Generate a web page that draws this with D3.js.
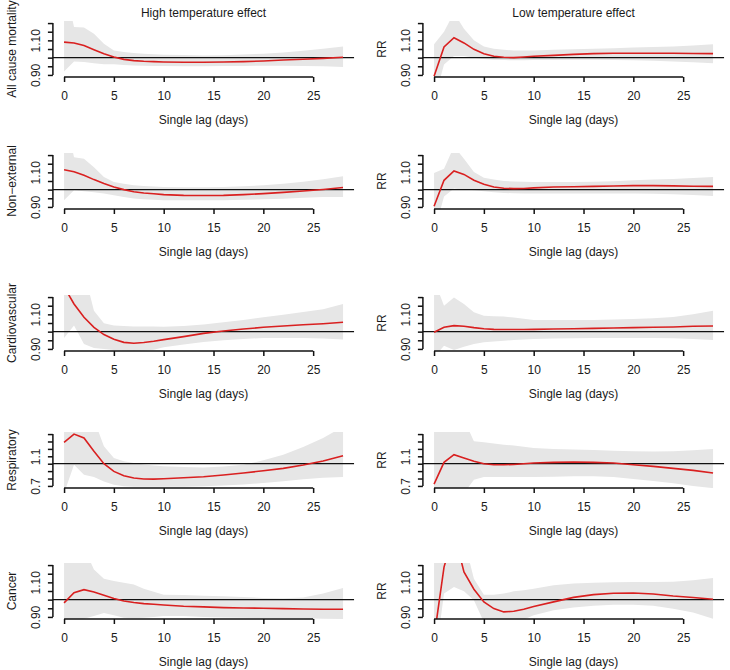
<!DOCTYPE html>
<html>
<head>
<meta charset="utf-8">
<title>Lag-response by cause</title>
<script src="https://d3js.org/d3.v7.min.js"></script>
<style>
  body { margin: 0; padding: 0; background: #fff; }
  svg text { font-family: "Liberation Sans", Arial, Helvetica, sans-serif; font-size: 12px; fill: #1a1a1a; }
</style>
</head>
<body>
<script>
// lags the curves were read at
var lags = [0, 1, 2, 3, 4, 5, 6, 7, 8, 9, 10, 12, 14, 16, 18, 20, 22, 24, 26, 28];

var causes = ["All cause mortality", "Non\u2212external", "Cardiovascular", "Respiratory", "Cancer"];
var effects = ["High temperature effect", "Low temperature effect"];
var xTicks = [0, 5, 10, 15, 20, 25];
var xLabel = "Single lag (days)";

// y ranges and ticks (narrow: 0.90-1.20, wide: 0.7-1.4 for respiratory)
var yRangeNarrow = [0.90, 1.20];
var yTicksNarrow = [0.90, 0.95, 1.00, 1.05, 1.10, 1.15, 1.20];
var yLabelsNarrow = ["0.90", "1.10"];
var yRangeWide = [0.7, 1.4];
var yTicksWide = [0.7, 0.8, 0.9, 1.0, 1.1, 1.2, 1.3, 1.4];
var yLabelsWide = ["0.7", "1.1"];

// high temperature: RR, lower and upper CI
var highAllRR = [1.09, 1.085, 1.07, 1.046, 1.023, 1.004, 0.99, 0.983, 0.979, 0.977, 0.975, 0.973, 0.973, 0.975, 0.977, 0.981, 0.986, 0.991, 0.996, 1.002];
var highAllLo = [0.92, 0.978, 0.975, 0.967, 0.962, 0.962, 0.958, 0.955, 0.953, 0.952, 0.951, 0.95, 0.95, 0.951, 0.952, 0.953, 0.953, 0.952, 0.95, 0.946];
var highAllHi = [1.45, 1.177, 1.175, 1.138, 1.08, 1.042, 1.033, 1.027, 1.022, 1.019, 1.017, 1.015, 1.013, 1.014, 1.018, 1.023, 1.03, 1.04, 1.052, 1.065];

var highNonRR = [1.115, 1.104, 1.083, 1.058, 1.035, 1.015, 1.0, 0.988, 0.981, 0.976, 0.971, 0.967, 0.966, 0.967, 0.971, 0.977, 0.984, 0.992, 1.001, 1.012];
var highNonLo = [0.938, 0.996, 0.99, 0.985, 0.977, 0.967, 0.957, 0.949, 0.944, 0.941, 0.939, 0.938, 0.938, 0.939, 0.941, 0.944, 0.948, 0.953, 0.957, 0.958];
var highNonHi = [1.45, 1.188, 1.179, 1.13, 1.073, 1.044, 1.034, 1.026, 1.021, 1.018, 1.016, 1.014, 1.014, 1.015, 1.019, 1.025, 1.034, 1.045, 1.06, 1.077];

var highCvdRR = [1.26, 1.16, 1.083, 1.025, 0.983, 0.956, 0.938, 0.933, 0.937, 0.944, 0.954, 0.971, 0.99, 1.004, 1.015, 1.025, 1.033, 1.04, 1.046, 1.054];
var highCvdLo = [0.963, 1.035, 0.929, 0.906, 0.9, 0.894, 0.891, 0.89, 0.891, 0.895, 0.91, 0.925, 0.94, 0.95, 0.958, 0.963, 0.963, 0.963, 0.96, 0.954];
var highCvdHi = [1.5, 1.45, 1.35, 1.121, 1.048, 1.035, 1.032, 1.03, 1.03, 1.03, 1.029, 1.033, 1.042, 1.054, 1.067, 1.083, 1.098, 1.113, 1.13, 1.16];

var highRespRR = [1.288, 1.40, 1.347, 1.167, 1.0, 0.896, 0.838, 0.806, 0.793, 0.792, 0.797, 0.811, 0.824, 0.847, 0.874, 0.905, 0.937, 0.982, 1.036, 1.108];
var highRespLo = [0.6, 0.986, 0.851, 0.82, 0.761, 0.716, 0.694, 0.69, 0.688, 0.688, 0.688, 0.69, 0.695, 0.705, 0.72, 0.74, 0.762, 0.79, 0.81, 0.82];
var highRespHi = [1.6, 1.6, 1.6, 1.6, 1.234, 1.077, 1.032, 1.009, 0.99, 0.975, 0.964, 0.955, 0.95, 0.962, 0.986, 1.045, 1.12, 1.225, 1.347, 1.5];

var highCanRR = [0.981, 1.04, 1.058, 1.044, 1.025, 1.006, 0.992, 0.983, 0.977, 0.973, 0.969, 0.962, 0.958, 0.954, 0.952, 0.95, 0.948, 0.946, 0.944, 0.944];
var highCanLo = [0.89, 0.88, 0.89, 0.905, 0.923, 0.91, 0.895, 0.893, 0.895, 0.9, 0.906, 0.905, 0.9, 0.897, 0.895, 0.894, 0.893, 0.892, 0.89, 0.888];
var highCanHi = [1.5, 1.4, 1.3, 1.175, 1.121, 1.108, 1.098, 1.087, 1.063, 1.045, 1.029, 1.027, 1.023, 1.02, 1.015, 1.01, 1.008, 1.012, 1.035, 1.067];

// low temperature
var lowAllRR = [0.892, 1.062, 1.115, 1.085, 1.048, 1.023, 1.008, 1.002, 1.0, 1.004, 1.008, 1.013, 1.019, 1.023, 1.025, 1.025, 1.025, 1.025, 1.024, 1.023];
var lowAllLo = [0.75, 0.96, 1.01, 1.01, 1.0, 0.992, 0.988, 0.986, 0.985, 0.985, 0.986, 0.987, 0.988, 0.988, 0.987, 0.985, 0.982, 0.978, 0.973, 0.968];
var lowAllHi = [1.077, 1.15, 1.26, 1.167, 1.10, 1.065, 1.052, 1.045, 1.042, 1.041, 1.042, 1.045, 1.049, 1.052, 1.055, 1.058, 1.061, 1.064, 1.07, 1.077];

var lowNonRR = [0.904, 1.054, 1.108, 1.088, 1.054, 1.031, 1.015, 1.008, 1.006, 1.007, 1.01, 1.015, 1.017, 1.019, 1.021, 1.023, 1.023, 1.022, 1.02, 1.019];
var lowNonLo = [0.75, 0.96, 1.006, 1.0, 0.996, 0.99, 0.985, 0.981, 0.979, 0.978, 0.977, 0.977, 0.977, 0.977, 0.977, 0.977, 0.976, 0.974, 0.969, 0.963];
var lowNonHi = [1.096, 1.121, 1.25, 1.179, 1.102, 1.069, 1.058, 1.05, 1.047, 1.045, 1.044, 1.044, 1.044, 1.045, 1.048, 1.054, 1.058, 1.062, 1.067, 1.073];

var lowCvdRR = [0.996, 1.025, 1.035, 1.031, 1.023, 1.017, 1.013, 1.012, 1.012, 1.012, 1.013, 1.015, 1.017, 1.019, 1.021, 1.023, 1.025, 1.027, 1.031, 1.033];
var lowCvdLo = [0.85, 0.919, 0.894, 0.913, 0.929, 0.938, 0.943, 0.948, 0.951, 0.955, 0.958, 0.96, 0.962, 0.963, 0.963, 0.963, 0.963, 0.962, 0.958, 0.952];
var lowCvdHi = [1.3, 1.15, 1.198, 1.16, 1.112, 1.092, 1.089, 1.087, 1.082, 1.075, 1.067, 1.067, 1.067, 1.068, 1.07, 1.073, 1.078, 1.085, 1.1, 1.121];

var lowRespRR = [0.725, 1.018, 1.122, 1.077, 1.032, 1.0, 0.986, 0.986, 0.99, 1.0, 1.009, 1.018, 1.023, 1.018, 1.009, 0.986, 0.964, 0.937, 0.91, 0.874];
var lowRespLo = [0.5, 0.5, 0.5, 0.6, 0.784, 0.82, 0.82, 0.82, 0.82, 0.82, 0.82, 0.825, 0.829, 0.829, 0.822, 0.793, 0.765, 0.735, 0.7, 0.67];
var lowRespHi = [1.6, 1.6, 1.6, 1.6, 1.302, 1.288, 1.272, 1.257, 1.245, 1.228, 1.212, 1.2, 1.192, 1.186, 1.176, 1.167, 1.165, 1.167, 1.18, 1.198];

var lowCanRR = [0.78, 1.188, 1.39, 1.16, 1.06, 0.987, 0.948, 0.929, 0.933, 0.944, 0.96, 0.987, 1.013, 1.029, 1.037, 1.038, 1.033, 1.021, 1.012, 1.002];
var lowCanLo = [0.6, 1.035, 1.073, 1.048, 0.996, 0.87, 0.86, 0.86, 0.865, 0.885, 0.91, 0.938, 0.955, 0.965, 0.97, 0.971, 0.965, 0.948, 0.925, 0.89];
var lowCanHi = [1.6, 1.6, 1.6, 1.35, 1.121, 1.029, 1.029, 1.035, 1.048, 1.055, 1.063, 1.083, 1.093, 1.098, 1.1, 1.102, 1.102, 1.104, 1.112, 1.125];

var width = 730, height = 670;
var colLeft = [52.9, 422.9], plotW = 301.3;
var rowBottom = [77, 209, 351, 488, 619], plotH = 56;

var panels = [
  [highAllRR, highAllLo, highAllHi, lowAllRR, lowAllLo, lowAllHi],
  [highNonRR, highNonLo, highNonHi, lowNonRR, lowNonLo, lowNonHi],
  [highCvdRR, highCvdLo, highCvdHi, lowCvdRR, lowCvdLo, lowCvdHi],
  [highRespRR, highRespLo, highRespHi, lowRespRR, lowRespLo, lowRespHi],
  [highCanRR, highCanLo, highCanHi, lowCanRR, lowCanLo, lowCanHi]
];

var svg = d3.select("body").append("svg")
    .attr("width", width)
    .attr("height", height);

var pad = 0.04;  // R style axis padding

panels.forEach(function (row, r) {
  var wide = r === 3;
  var yr = wide ? yRangeWide : yRangeNarrow,
      yTicks = wide ? yTicksWide : yTicksNarrow,
      yLabs = wide ? yLabelsWide : yLabelsNarrow;

  [0, 1].forEach(function (c) {
    var rr = row[c * 3], lo = row[c * 3 + 1], hi = row[c * 3 + 2];
    var left = colLeft[c], bottom = rowBottom[r];
    var span = yr[1] - yr[0];

    var x = d3.scaleLinear()
        .domain([-pad * 28, 28 * (1 + pad)])
        .range([left, left + plotW]);
    var y = d3.scaleLinear()
        .domain([yr[0] - pad * span, yr[1] + pad * span])
        .range([bottom, bottom - plotH]);

    var id = "clip" + r + "_" + c;
    svg.append("clipPath").attr("id", id)
      .append("rect")
        .attr("x", left).attr("y", bottom - plotH)
        .attr("width", plotW).attr("height", plotH);

    var g = svg.append("g").attr("clip-path", "url(#" + id + ")");

    var area = d3.area()
        .x(function (d, i) { return x(lags[i]); })
        .y0(function (d, i) { return y(lo[i]); })
        .y1(function (d, i) { return y(hi[i]); });
    g.append("path")
        .attr("d", area(lags))
        .attr("fill", "#e6e6e6");

    g.append("line")
        .attr("x1", left).attr("x2", left + plotW)
        .attr("y1", y(1)).attr("y2", y(1))
        .attr("stroke", "#111")
        .attr("stroke-width", 1.3);

    var line = d3.line()
        .x(function (d, i) { return x(lags[i]); })
        .y(function (d) { return y(d); });
    g.append("path")
        .attr("d", line(rr))
        .attr("fill", "none")
        .attr("stroke", "#d92020")
        .attr("stroke-width", 1.6);

    // x axis
    var xa = svg.append("g")
        .attr("transform", "translate(0," + bottom + ")")
        .call(d3.axisBottom(x).tickValues(xTicks).tickSize(5));
    xa.select(".domain").remove();
    xa.append("line")
        .attr("x1", x(xTicks[0])).attr("x2", x(xTicks[xTicks.length - 1]));
    xa.selectAll("line").attr("stroke", "#111").attr("stroke-width", 1.5);
    xa.selectAll("text")
        .attr("y", 19).attr("dy", "0.35em")
        .style("font-size", "12px")
        .attr("fill", "#1a1a1a");

    // y axis
    var ya = svg.append("g")
        .attr("transform", "translate(" + left + ",0)")
        .call(d3.axisLeft(y).tickValues(yTicks).tickSize(5)
          .tickFormat(function (d) {
            var s = wide ? d3.format(".1f")(d) : d3.format(".2f")(d);
            return yLabs.indexOf(s) >= 0 ? s : "";
          }));
    ya.select(".domain").remove();
    ya.append("line")
        .attr("y1", y(yTicks[0])).attr("y2", y(yTicks[yTicks.length - 1]));
    ya.selectAll("line").attr("stroke", "#111").attr("stroke-width", 1.5);
    ya.selectAll("text")
        .attr("x", null).attr("dy", "0.35em")
        .attr("text-anchor", "middle")
        .attr("transform", "translate(-17.5,0) rotate(-90)")
        .style("font-size", "12px")
        .attr("fill", "#1a1a1a");

    svg.append("text")
        .attr("x", left + plotW / 2)
        .attr("y", bottom + 43)
        .attr("dy", "0.35em")
        .attr("text-anchor", "middle")
        .text(xLabel);

    svg.append("text")
        .attr("transform", "translate(" + (left - 41) + "," + (bottom - plotH / 2) + ") rotate(-90)")
        .attr("dy", "0.35em")
        .attr("text-anchor", "middle")
        .text(c === 0 ? causes[r] : "RR");

    if (r === 0) {
      svg.append("text")
          .attr("x", left + plotW / 2)
          .attr("y", 13)
          .attr("dy", "0.35em")
          .attr("text-anchor", "middle")
          .text(effects[c]);
    }
  });
});
</script>
</body>
</html>
